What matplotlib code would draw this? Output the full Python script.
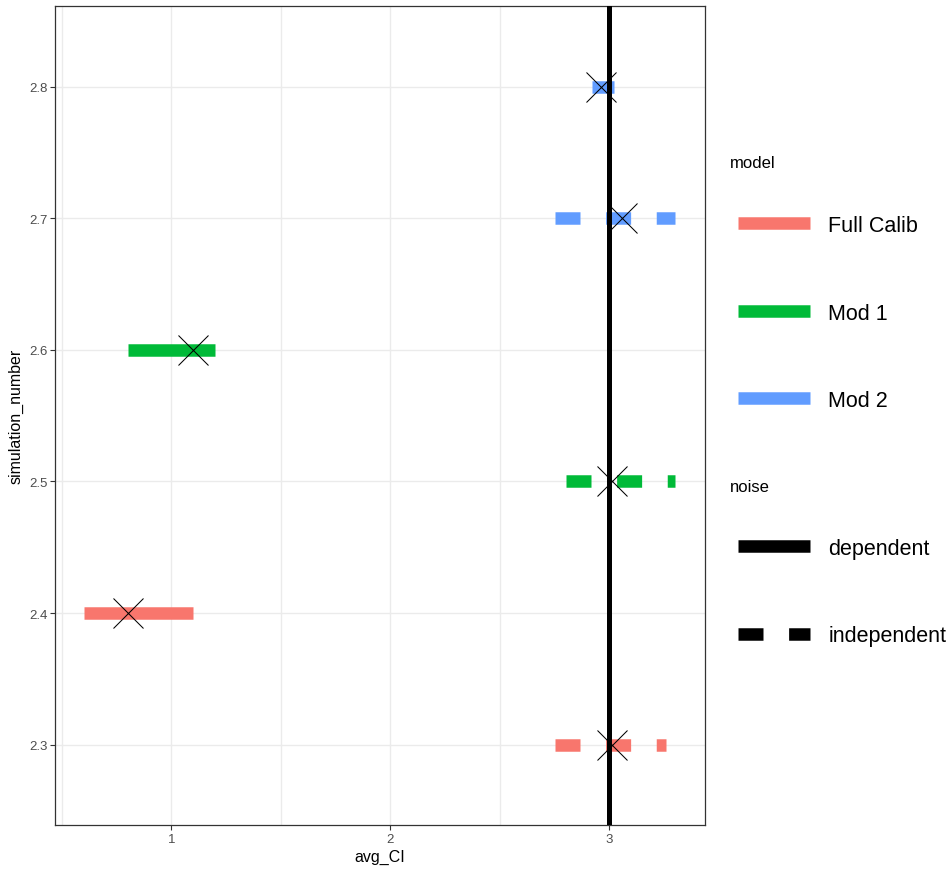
import matplotlib
matplotlib.use("Agg")
from matplotlib import pyplot as plt
from matplotlib.lines import Line2D

plt.rcParams['font.family'] = ['Liberation Sans', 'DejaVu Sans']

# data
simulation_number = [2.3, 2.4, 2.5, 2.6, 2.7, 2.8]
model = ['Full Calib', 'Full Calib', 'Mod 1', 'Mod 1', 'Mod 2', 'Mod 2']
noise = ['independent', 'dependent', 'independent', 'dependent', 'independent', 'dependent']
ci_lower = [2.75, 0.60, 2.80, 0.80, 2.75, 2.92]
ci_upper = [3.26, 1.10, 3.30, 1.20, 3.30, 3.02]
estimate = [3.01, 0.80, 3.01, 1.10, 3.06, 2.96]
true_value = 3.0

model_levels = ['Full Calib', 'Mod 1', 'Mod 2']
noise_levels = ['dependent', 'independent']
model_colors = {'Full Calib': '#F8766D', 'Mod 1': '#00BA38', 'Mod 2': '#619CFF'}
dash = (0, (2.0, 2.05))
noise_styles = {'dependent': '-', 'independent': dash}

seg_lw = 9.0

fig = plt.figure(figsize=(9.52, 8.70), dpi=100)
ax = fig.add_axes([55/952, 1-826/870, (705-55)/952, (826-7.3)/870])

for y, m, n, lo, hi in zip(simulation_number, model, noise, ci_lower, ci_upper):
    ax.plot([lo, hi], [y, y], color=model_colors[m], lw=seg_lw,
            linestyle=noise_styles[n], solid_capstyle='butt', dash_capstyle='butt', zorder=3)

ax.plot(estimate, simulation_number, linestyle='none', marker='x', markersize=21,
        markeredgewidth=0.75, color='black', zorder=4)
ax.axvline(true_value, color='black', lw=3.6, zorder=5)

ax.set_xlim(0.468, 3.437)
ax.set_ylim(2.239, 2.861)
ax.set_xticks([1, 2, 3])
ax.set_xticks([0.5, 1.5, 2.5], minor=True)
ax.set_yticks(simulation_number)
ax.set_xticklabels(['1', '2', '3'])
ax.set_yticklabels([f'{v:.1f}' for v in simulation_number])
ax.grid(True, which='major', color='#EBEBEB', lw=1.0)
ax.grid(True, which='minor', axis='x', color='#EBEBEB', lw=1.0)
ax.set_axisbelow(True)
ax.tick_params(axis='both', which='major', length=3.5, width=0.8, color='#333333',
               labelcolor='#4D4D4D', labelsize=9.5, pad=2)
ax.tick_params(axis='x', which='minor', length=0)
for s in ax.spines.values():
    s.set_color('#333333')
    s.set_linewidth(0.9)

ax.set_xlabel('avg_CI', fontsize=11.5, labelpad=3)
ax.set_ylabel('simulation_number', fontsize=11.5, labelpad=4)

# legends
model_handles = [Line2D([], [], color=model_colors[m], lw=seg_lw, solid_capstyle='butt')
                 for m in model_levels]
noise_handles = [Line2D([], [], color='black', lw=seg_lw, linestyle=noise_styles[n],
                        solid_capstyle='butt', dash_capstyle='butt') for n in noise_levels]

leg_kw = dict(frameon=False, fontsize=15.5, handlelength=3.35, handletextpad=0.84,
              labelspacing=3.09, borderpad=0, borderaxespad=0, loc='center left')
leg1 = fig.legend(model_handles, model_levels, bbox_to_anchor=(738/952, 1-314/870), **leg_kw)
leg2 = fig.legend(noise_handles, noise_levels, bbox_to_anchor=(738/952, 1-593/870), **leg_kw)
fig.text(730/952, 1-164/870, 'model', fontsize=12, va='center', ha='left')
fig.text(730/952, 1-488/870, 'noise', fontsize=12, va='center', ha='left')

fig.savefig('out.png', dpi=100)
